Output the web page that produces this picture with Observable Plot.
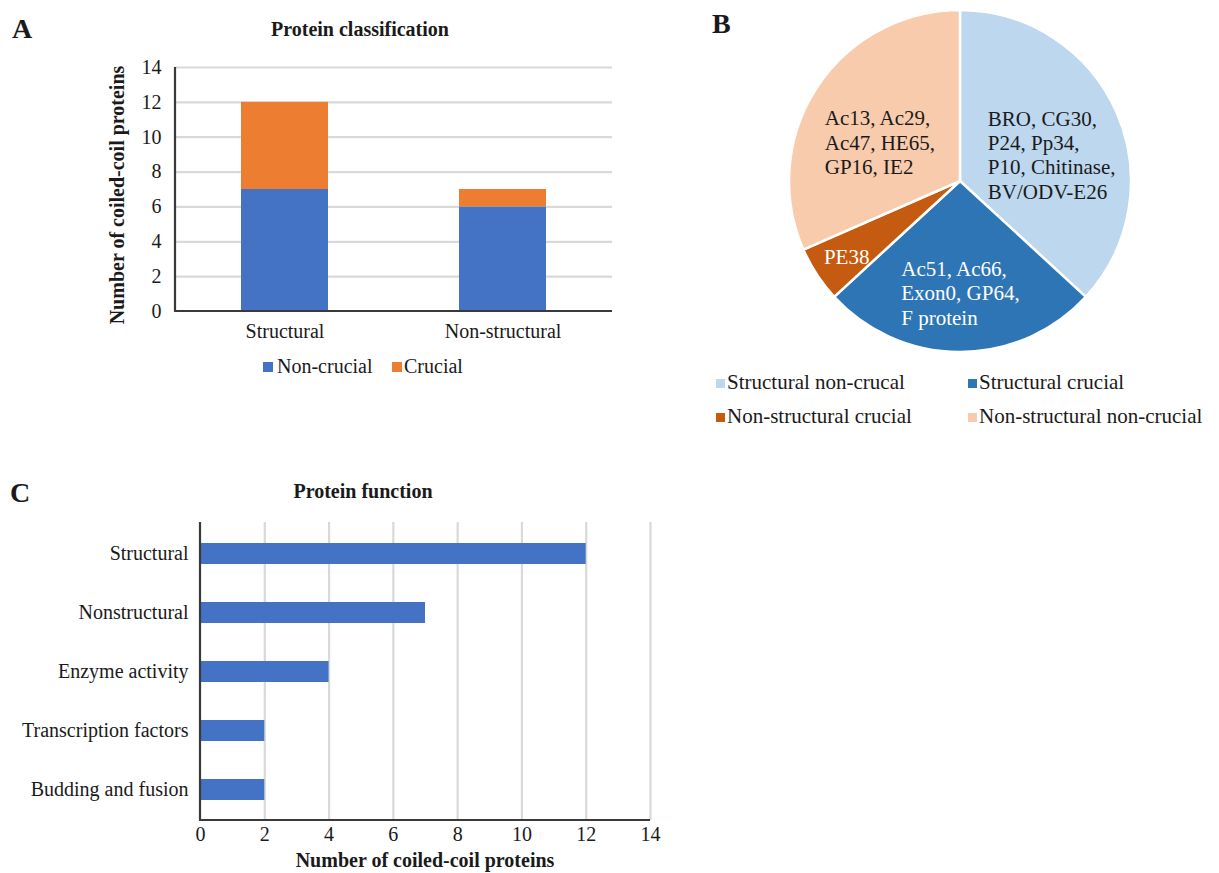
<!DOCTYPE html>
<html><head><meta charset="utf-8">
<script src="https://cdn.jsdelivr.net/npm/d3@7"></script>
<script src="https://cdn.jsdelivr.net/npm/@observablehq/plot@0.6"></script>
<style>
body{margin:0;background:#fff;font-family:"Liberation Serif","Times New Roman",serif;color:#1a1a1a;}
#root{position:relative;width:1219px;height:873px;overflow:hidden;background:#fff;}
.abs{position:absolute;white-space:nowrap;line-height:1;}
.panel{position:absolute;}
.sw{display:inline-block;position:absolute;}
</style></head><body><div id="root"></div>
<script>
// ---- data ----
const classCategories = ["Structural", "Non-structural"];
const crucialityGroups = ["Non-crucial", "Crucial"];
const nonCrucialCounts = [7, 6];
const crucialCounts = [5, 1];
const colorsA = ["#4472C4", "#ED7D31"];

const pieLabels = ["Structural non-crucal", "Structural crucial", "Non-structural crucial", "Non-structural non-crucial"];
const pieValues = [7, 5, 1, 6];
const pieProteins = [
  ["BRO, CG30,", "P24, Pp34,", "P10, Chitinase,", "BV/ODV-E26"],
  ["Ac51, Ac66,", "Exon0, GP64,", "F protein"],
  ["PE38"],
  ["Ac13, Ac29,", "Ac47, HE65,", "GP16, IE2"]
];
const pieTextColors = ["#1a1a1a", "#ffffff", "#ffffff", "#1a1a1a"];
const colorsB = ["#BDD7EE", "#2E75B6", "#C55A11", "#F8CBAD"];

const functionCategories = ["Structural", "Nonstructural", "Enzyme activity", "Transcription factors", "Budding and fusion"];
const functionCounts = [12, 7, 4, 2, 2];
const countTicks = [0, 2, 4, 6, 8, 10, 12, 14];

// label placement style for the pie (radius fraction, angle shift in degrees)
const pieLabelRadius = [0.556, 0.65, 0.795, 0.526];
const pieLabelAngleShift = [7.2, 0, 0, -6.9];

// ---- helpers ----
const FONT = '"Liberation Serif","Times New Roman",serif';
const root = document.getElementById("root");
function addText(txt, x, baseline, size, opts = {}) {
  const d = document.createElement("div");
  d.className = "abs";
  d.textContent = txt;
  d.style.fontSize = size + "px";
  d.style.fontWeight = opts.bold ? "bold" : "normal";
  d.style.top = (baseline - 0.8375 * size) + "px";
  d.style.left = x + "px";
  if (opts.center) d.style.transform = "translateX(-50%)";
  root.appendChild(d);
  return d;
}
function addSwatch(x, cy, size, color) {
  const s = document.createElement("div");
  s.className = "sw";
  s.style.left = x + "px";
  s.style.top = (cy - size / 2) + "px";
  s.style.width = size + "px";
  s.style.height = size + "px";
  s.style.background = color;
  root.appendChild(s);
}
function place(node, left, top) {
  const w = document.createElement("div");
  w.className = "panel";
  w.style.left = left + "px";
  w.style.top = top + "px";
  w.appendChild(node);
  root.appendChild(w);
}
const svgNS = "http://www.w3.org/2000/svg";
function frameLine(side) {
  return (index, scales, values, dim) => {
    const l = document.createElementNS(svgNS, "line");
    let x1, x2, y1, y2;
    if (side === "left") { x1 = x2 = dim.marginLeft; y1 = dim.marginTop; y2 = dim.height - dim.marginBottom; }
    else { y1 = y2 = dim.height - dim.marginBottom; x1 = dim.marginLeft - 1; x2 = dim.width - dim.marginRight; }
    l.setAttribute("x1", x1); l.setAttribute("x2", x2); l.setAttribute("y1", y1); l.setAttribute("y2", y2);
    l.setAttribute("stroke", "#3a3a3a"); l.setAttribute("stroke-width", 2.2);
    return l;
  };
}
const baseStyle = {fontFamily: FONT, fontSize: "20px", color: "#1a1a1a", background: "transparent", overflow: "visible"};

// ---- Panel A ----
const dataA = classCategories.flatMap((c, i) => [
  {category: c, group: crucialityGroups[0], count: nonCrucialCounts[i]},
  {category: c, group: crucialityGroups[1], count: crucialCounts[i]}
]);
const plotA = Plot.plot({
  width: 620, height: 400,
  marginLeft: 175, marginRight: 8, marginTop: 67, marginBottom: 89,
  style: baseStyle,
  x: {domain: classCategories, paddingInner: 0.6, paddingOuter: 0.3, label: null},
  y: {domain: [0, 14], label: null},
  color: {domain: crucialityGroups, range: colorsA},
  marks: [
    Plot.ruleY(countTicks.filter(d => d > 0), {stroke: "#d9d9d9", strokeWidth: 2.2}),
    Plot.barY(dataA, {x: "category", y: "count", fill: "group"}),
    Plot.axisY({ticks: countTicks, tickSize: 0, tickPadding: 14, label: null, fontSize: 20}),
    Plot.axisX({tickSize: 0, tickPadding: 12, label: null, fontSize: 20}),
    frameLine("bottom"),
    frameLine("left")
  ]
});
place(plotA, 0, 0);
addText("A", 12, 38, 28, {bold: true});
addText("Protein classification", 360, 36, 20, {bold: true, center: true});
{
  const t = document.createElement("div");
  t.className = "abs";
  t.textContent = "Number of coiled-coil proteins";
  t.style.fontSize = "20px"; t.style.fontWeight = "bold";
  t.style.left = "117px"; t.style.top = "195px";
  t.style.transform = "translate(-50%,-50%) rotate(-90deg)";
  root.appendChild(t);
}
addSwatch(263, 367, 10, colorsA[0]);
addText(crucialityGroups[0], 277, 373, 20);
addSwatch(392, 367, 10, colorsA[1]);
addText(crucialityGroups[1], 404, 373, 20);

// ---- Panel B (pie) ----
const pieArcs = d3.pie().sort(null).value(d => d)(pieValues);
const measure = document.createElement("canvas").getContext("2d");
measure.font = `21px ${FONT}`;
const pieLabelData = pieArcs.map((a, i) => {
  const mid = (a.startAngle + a.endAngle) / 2 + pieLabelAngleShift[i] * Math.PI / 180;
  const f = pieLabelRadius[i];
  const w = d3.max(pieProteins[i], s => measure.measureText(s).width);
  return {x: f * Math.sin(mid), y: f * Math.cos(mid), text: pieProteins[i].join("\n"), color: pieTextColors[i], half: w / 2};
});
const plotB = Plot.plot({
  width: 529, height: 360,
  marginLeft: 99, marginRight: 88, marginTop: 10, marginBottom: 8,
  style: baseStyle,
  x: {domain: [-1, 1], axis: null},
  y: {domain: [-1, 1], axis: null},
  marks: [
    (index, scales) => {
      const cx = scales.x(0), cy = scales.y(0), r = scales.x(1) - scales.x(0);
      const arc = d3.arc().innerRadius(0).outerRadius(r);
      const g = d3.create("svg:g").attr("transform", `translate(${cx},${cy})`);
      g.selectAll("path").data(pieArcs).join("path")
        .attr("d", arc)
        .attr("fill", (d, i) => colorsB[i])
        .attr("stroke", "#fff").attr("stroke-width", 2.5).attr("stroke-linejoin", "round");
      return g.node();
    },
    ...pieLabelData.map(d => Plot.text([d], {
      x: "x", y: "y", text: "text", fill: d.color, textAnchor: "start", dx: -d.half,
      lineAnchor: "middle", lineHeight: 1.16, fontSize: 21
    }))
  ]
});
place(plotB, 690, 0);
addText("B", 712, 33, 28, {bold: true});
const legendB = [[0, 716, 383], [1, 968, 383], [2, 716, 417], [3, 968, 417]];
legendB.forEach(([i, x, cy]) => {
  addSwatch(x, cy, 9, colorsB[i]);
  addText(pieLabels[i], x + 11, cy + 7, 21);
});

// ---- Panel C ----
const dataC = functionCategories.map((c, i) => ({category: c, count: functionCounts[i]}));
const plotC = Plot.plot({
  width: 680, height: 403,
  marginLeft: 200, marginRight: 30, marginTop: 52, marginBottom: 53,
  style: baseStyle,
  x: {domain: [0, 14], label: null},
  y: {domain: functionCategories, paddingInner: 0.65, paddingOuter: 0.325, label: null},
  marks: [
    Plot.ruleX(countTicks.filter(d => d > 0), {stroke: "#d9d9d9", strokeWidth: 2.2}),
    Plot.barX(dataC, {x: "count", y: "category", fill: colorsA[0]}),
    Plot.axisX({ticks: countTicks, tickSize: 0, tickPadding: 6, label: null, fontSize: 20}),
    Plot.axisY({tickSize: 0, tickPadding: 12, label: null, fontSize: 20}),
    frameLine("left"),
    frameLine("bottom")
  ]
});
place(plotC, 0, 470);
addText("C", 10, 502, 28, {bold: true});
addText("Protein function", 363, 498, 20, {bold: true, center: true});
addText("Number of coiled-coil proteins", 425, 867, 20, {bold: true, center: true});
</script></body></html>
